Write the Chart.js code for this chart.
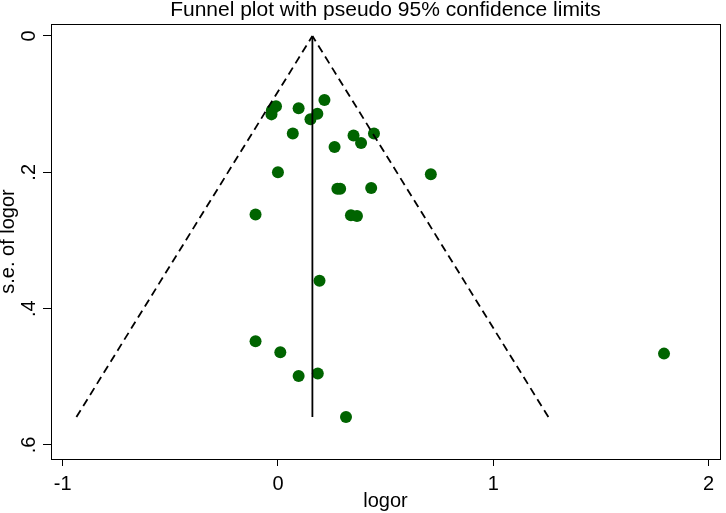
<!DOCTYPE html>
<html>
<head>
<meta charset="utf-8">
<title>Funnel plot</title>
<script src="https://cdn.jsdelivr.net/npm/chart.js@4.4.1/dist/chart.umd.min.js"></script>
<style>
  html, body { margin: 0; padding: 0; background: #fff; }
  canvas { display: block; }
</style>
</head>
<body>
<canvas id="funnel-chart" width="726" height="513"></canvas>
<script>
// study estimates
const logOr = [-0.009, -0.028, -0.030, 0.096, 0.216, 0.183, 0.151, 0.069, 0.351, 0.446,
  0.386, 0.263, 0.000, 0.710, 0.276, 0.289, 0.433, -0.104, 0.339, 0.367,
  0.193, -0.104, 0.011, 0.096, 0.185, 0.316, 1.793];
const seLogOr = [0.103, 0.109, 0.115, 0.106, 0.094, 0.114, 0.122, 0.143, 0.146, 0.143,
  0.157, 0.163, 0.200, 0.203, 0.224, 0.224, 0.223, 0.262, 0.263, 0.264,
  0.359, 0.448, 0.464, 0.499, 0.495, 0.559, 0.466];

// pooled estimate line and pseudo 95% limits
const pooledX = [0.16, 0.16];
const pooledSe = [0, 0.559];
const lowerLimitX = [-0.936, 0.16];
const upperLimitX = [1.256, 0.16];
const limitSe = [0.559, 0];

const xTicks = [-1, 0, 1, 2];
const xTickLabels = ["-1", "0", "1", "2"];
const yTicks = [0, 0.2, 0.4, 0.6];
const yTickLabels = ["0", ".2", ".4", ".6"];
const xRange = [-1.054, 2.053];
const yRange = [-0.0176, 0.6206];

const fontFamily = "'Liberation Sans', Arial, Helvetica, sans-serif";
Chart.defaults.font.family = fontFamily;
Chart.defaults.color = "#000";

function toPoints(xs, ys) {
  return xs.map((x, i) => ({ x, y: ys[i] }));
}

const frame = {
  id: "frame",
  afterDraw(chart) {
    const { ctx, chartArea } = chart;
    ctx.save();
    ctx.strokeStyle = "#000";
    ctx.lineWidth = 1;
    ctx.strokeRect(chartArea.left + 0.5, chartArea.top + 0.5,
      chartArea.right - chartArea.left, chartArea.bottom - chartArea.top);
    ctx.restore();
  },
};

const tickGrid = {
  display: true,
  drawOnChartArea: false,
  drawTicks: true,
  color: "#000",
  tickColor: "#000",
  tickWidth: 1,
};

new Chart(document.getElementById("funnel-chart"), {
  type: "scatter",
  data: {
    datasets: [
      {
        label: "pooled",
        data: toPoints(pooledX, pooledSe),
        showLine: true,
        borderColor: "#000",
        borderWidth: 1.8,
        pointRadius: 0,
        order: 0,
      },
      {
        label: "lower limit",
        data: toPoints(lowerLimitX, limitSe),
        showLine: true,
        borderColor: "#000",
        borderWidth: 1.8,
        borderDash: [8, 5],
        pointRadius: 0,
        order: 0,
      },
      {
        label: "upper limit",
        data: toPoints(upperLimitX, limitSe),
        showLine: true,
        borderColor: "#000",
        borderWidth: 1.8,
        borderDash: [8, 5],
        pointRadius: 0,
        order: 0,
      },
      {
        label: "studies",
        data: toPoints(logOr, seLogOr),
        pointRadius: 6,
        pointBackgroundColor: "#006400",
        pointBorderWidth: 0,
        order: 1,
      },
    ],
  },
  options: {
    responsive: false,
    animation: false,
    layout: { padding: { left: 0, right: 2, top: 0, bottom: 0 } },
    plugins: {
      legend: { display: false },
      tooltip: { enabled: false },
      title: {
        display: true,
        text: "Funnel plot with pseudo 95% confidence limits",
        color: "#000",
        fullSize: false,
        font: { size: 21, weight: "normal", lineHeight: 1 },
        padding: { top: 0, bottom: 3 },
      },
    },
    scales: {
      x: {
        type: "linear",
        min: xRange[0],
        max: xRange[1],
        afterBuildTicks: (scale) => {
          scale.ticks = xTicks.map((value) => ({ value }));
        },
        afterFit: (scale) => {
          scale.height = 54;
          scale.paddingLeft = 0;
          scale.paddingRight = 0;
        },
        ticks: {
          autoSkip: false,
          maxRotation: 0,
          padding: 8,
          font: { size: 20, lineHeight: 1 },
          callback: (value, index) => xTickLabels[index],
        },
        grid: { ...tickGrid, tickLength: 7 },
        border: { display: false },
        title: {
          display: true,
          text: "logor",
          font: { size: 20, lineHeight: 1 },
          padding: { top: 0, bottom: 2 },
        },
      },
      y: {
        type: "linear",
        reverse: true,
        min: yRange[0],
        max: yRange[1],
        afterBuildTicks: (scale) => {
          scale.ticks = yTicks.map((value) => ({ value }));
        },
        afterFit: (scale) => {
          scale.width = 51;
          scale.paddingTop = 0;
          scale.paddingBottom = 0;
        },
        ticks: {
          autoSkip: false,
          minRotation: 90,
          maxRotation: 90,
          crossAlign: "center",
          padding: 4.7,
          font: { size: 20, lineHeight: 1 },
          callback: (value, index) => yTickLabels[index],
        },
        grid: { ...tickGrid, tickLength: 8 },
        border: { display: false },
        title: {
          display: true,
          text: "s.e. of logor",
          font: { size: 20, lineHeight: 0.87 },
          padding: { top: 0, bottom: 0 },
        },
      },
    },
  },
  plugins: [frame],
});
</script>
</body>
</html>
